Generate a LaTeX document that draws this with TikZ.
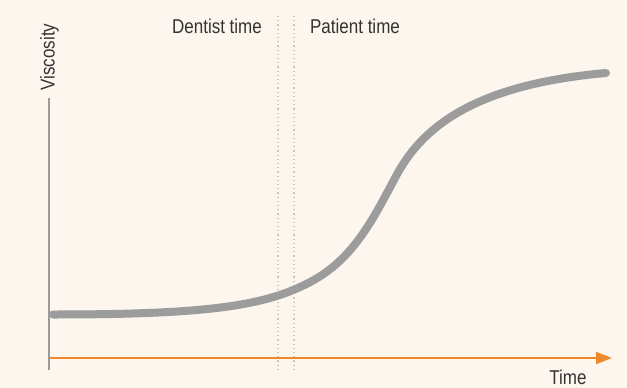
\documentclass[tikz,border=0pt]{standalone}
\usepackage{xcolor}
\usepackage{fontspec}
\setmainfont{Liberation Sans}[FakeStretch=0.85]
\usetikzlibrary{positioning,calc,arrows.meta}
\definecolor{paper}{HTML}{FDF6EF}
\definecolor{curvegray}{HTML}{9C9C9C}
\definecolor{axisgray}{HTML}{9A9A9A}
\definecolor{dotgray}{HTML}{C6C6C6}
\definecolor{timeorange}{HTML}{F0892A}
\definecolor{ink}{HTML}{333333}

\begin{document}
\begin{tikzpicture}[
    x=1pt, y=-1pt,
    every node/.style={inner sep=0pt, text=ink, font=\fontsize{20}{24}\selectfont},
    axisline/.style={draw=axisgray, line width=2pt},
    timeline/.style={draw=timeorange, line width=2pt, -{Triangle[length=16pt,width=12pt]}},
    splitline/.style={draw=dotgray, line width=1.2pt, dash pattern=on 1.2pt off 3pt},
    viscurve/.style={draw=curvegray, line width=8pt, line cap=round}
]
    \fill[paper] (0,0) rectangle (627,388);
    \coordinate (origin) at (49,370);
    \coordinate (ytop) at (49,98);
    \coordinate (xstart) at (49,358);
    \coordinate (xend) at (612,358);
    \coordinate (dentisttop) at (278,16);
    \coordinate (dentistbottom) at (278,370);
    \coordinate (patienttop) at (294,16);
    \coordinate (patientbottom) at (294,370);
    \coordinate (start) at (53,314.5);
    \coordinate (bend) at (300,287);
    \coordinate (steep) at (395,178);
    \coordinate (finish) at (606,73);
    \draw[axisline] (origin) -- (ytop);
    \draw[splitline] (dentisttop) -- (dentistbottom);
    \draw[splitline] (patienttop) -- (patientbottom);
    \draw[timeline] (xstart) -- (xend);
    \draw[viscurve] (start) .. controls (190,314.5) and (255,308) .. (bend)
        .. controls (350,265) and (370,225) .. (steep)
        .. controls (420,130) and (470,85) .. (finish);
    \node[rotate=90, anchor=base] (viscosity) at (54.5,57) {Viscosity};
    \node[anchor=base] (dentist) at (217,33.5) {Dentist time};
    \node[anchor=base] (patient) at (355,33.5) {Patient time};
    \node[anchor=base] (time) at (568,384) {Time};
\end{tikzpicture}
\end{document}
